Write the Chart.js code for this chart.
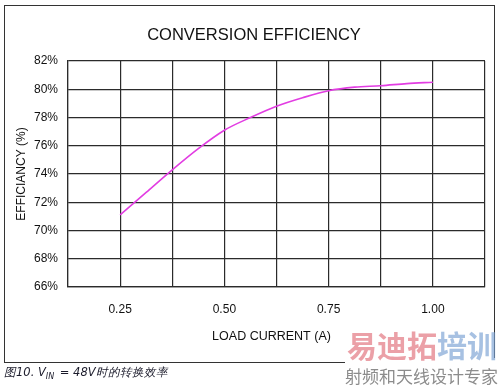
<!DOCTYPE html>
<html>
<head>
<meta charset="utf-8">
<script src="https://cdn.jsdelivr.net/npm/chart.js@4"></script>
<style>
  html, body { margin: 0; padding: 0; background: #fff; }
  #wrap { width: 500px; height: 387px; position: relative; }
</style>
</head>
<body>
<div id="wrap"><canvas id="chart" width="500" height="387"></canvas></div>
<script>
// data
const loadCurrent = [0.25, 0.3125, 0.375, 0.4375, 0.5, 0.5625, 0.625, 0.6875, 0.75, 0.8125, 0.875, 0.9375, 1.0];
const efficiency  = [71.1, 72.7, 74.3, 75.8, 77.1, 78.0, 78.8, 79.4, 79.9, 80.15, 80.25, 80.4, 80.5];
const xLabelTicks = [0.25, 0.5, 0.75, 1.0];

const titleText = 'CONVERSION EFFICIENCY';
const xTitle = 'LOAD CURRENT (A)';
const yTitle = 'EFFICIANCY (%)';

const FONT = 'Liberation Sans, Arial, sans-serif';
const gridColor = '#2b2b2b';

// frame, titles, caption and watermark drawn around the chart
const decor = {
  id: 'decor',
  afterDraw(chart){
    const c = chart.ctx;
    c.save();
    c.strokeStyle = '#333';
    c.lineWidth = 1;
    c.strokeRect(4.5, 5.5, 490, 357);

    // chart title and x axis title
    c.fillStyle = '#111';
    c.textAlign = 'center';
    c.textBaseline = 'middle';
    c.font = '16.5px ' + FONT;
    c.fillText(titleText, 254, 35);
    c.font = '12.5px ' + FONT;
    c.fillText(xTitle, 271.5, 337);

    // caption
    c.textAlign = 'left';
    c.fillStyle = '#1a1a2a';
    c.textBaseline = 'alphabetic';
    c.font = 'italic 11.5px "DejaVu Sans", sans-serif';
    let x = 4;
    const base = 376;
    c.fillText('图10. V', x, base); x += c.measureText('图10. V').width;
    c.font = 'italic 8px "DejaVu Sans", sans-serif';
    c.fillText('IN', x, base + 3); x += c.measureText('IN').width + 2;
    c.font = 'italic 11.5px "DejaVu Sans", sans-serif';
    c.fillText(' = 48V时的转换效率', x, base);

    // watermark
    c.fillStyle = '#fff';
    c.fillRect(345, 358, 155, 29);
    c.font = 'bold 30px "Noto Sans CJK SC", sans-serif';
    c.fillStyle = 'rgba(226,120,130,0.7)';
    c.fillText('易迪拓', 347, 357);
    const w = c.measureText('易迪拓').width;
    c.fillStyle = 'rgba(120,160,210,0.65)';
    c.fillText('培训', 347 + w, 357);
    c.font = '17px "Noto Sans CJK SC", sans-serif';
    c.fillStyle = '#8c8c8c';
    c.fillText('射频和天线设计专家', 345, 383);
    c.restore();
  }
};

new Chart(document.getElementById('chart'), {
  type: 'line',
  data: {
    datasets: [{
      data: loadCurrent.map((v, i) => ({ x: v, y: efficiency[i] })),
      borderColor: '#e23de2',
      borderWidth: 1.6,
      pointRadius: 0,
      cubicInterpolationMode: 'monotone',
      fill: false
    }]
  },
  options: {
    responsive: false,
    animation: false,
    layout: { padding: { left: 4, right: 12, top: 61, bottom: 40 } },
    plugins: {
      legend: { display: false },
      tooltip: { enabled: false },
      title: { display: false }
    },
    scales: {
      x: {
        type: 'linear',
        min: 0.125,
        max: 1.125,
        afterFit: (s) => { s.height = 60; },
        grid: { color: gridColor, lineWidth: 1.2, drawTicks: false },
        border: { color: gridColor, width: 1.2 },
        ticks: {
          stepSize: 0.125,
          padding: 15,
          color: '#111',
          font: { family: FONT, size: 12 },
          maxRotation: 0,
          autoSkip: false,
          callback: (v) => xLabelTicks.includes(v) ? v.toFixed(2) : ''
        }
      },
      y: {
        min: 66,
        max: 82,
        afterFit: (s) => { s.width = 64; },
        grid: { color: gridColor, lineWidth: 1.2, drawTicks: false },
        border: { color: gridColor, width: 1.2 },
        ticks: {
          stepSize: 2,
          padding: 10,
          color: '#111',
          font: { family: FONT, size: 12 },
          callback: (v) => v + '%'
        },
        title: {
          display: true,
          text: yTitle,
          color: '#111',
          font: { family: FONT, size: 12 },
          padding: { top: 10, bottom: 0 }
        }
      }
    }
  },
  plugins: [decor]
});
</script>
</body>
</html>
